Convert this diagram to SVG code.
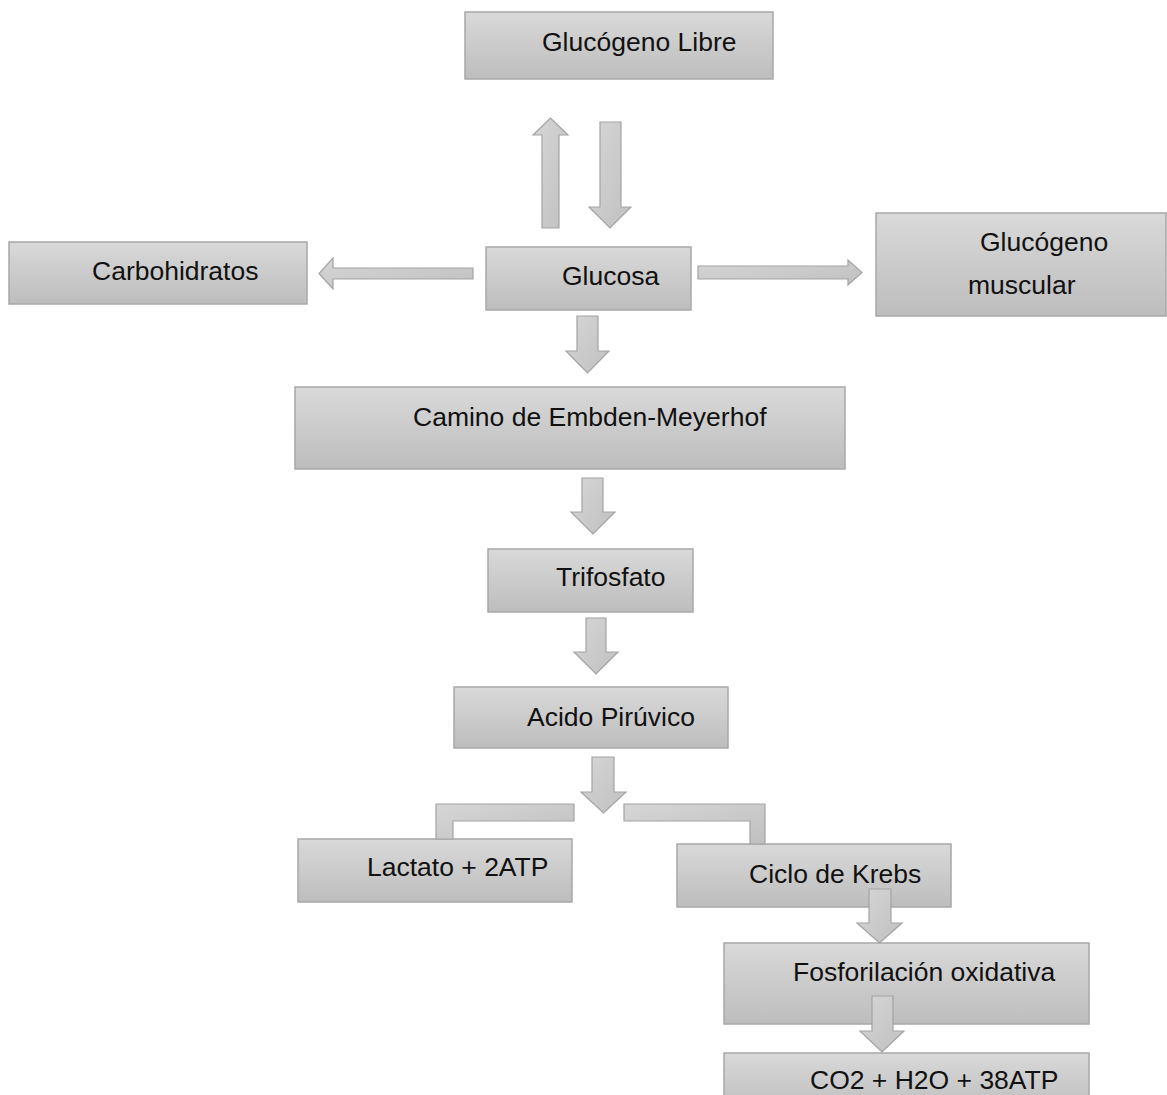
<svg xmlns="http://www.w3.org/2000/svg" width="1167" height="1095" viewBox="0 0 1167 1095">
<defs>
<linearGradient id="g" x1="0" y1="0" x2="0" y2="1">
<stop offset="0" stop-color="#d9d9d9"/>
<stop offset="1" stop-color="#bdbdbd"/>
</linearGradient>
<linearGradient id="ga" x1="0" y1="0" x2="1" y2="1">
<stop offset="0" stop-color="#d6d6d6"/>
<stop offset="1" stop-color="#c0c0c0"/>
</linearGradient>
<style>
.box{fill:url(#g);stroke:#a8a8a8;stroke-width:1.5}
.arr{fill:url(#ga);stroke:#a3a3a3;stroke-width:1.2;stroke-linejoin:miter}
.t{font-family:"Liberation Sans",Arial,sans-serif;font-size:26.5px;fill:#111}
</style>
</defs>
<rect width="1167" height="1095" fill="#fff"/>
<g id="n-glucogeno-libre"><rect class="box" x="465" y="12" width="308" height="67"/><text class="t" x="542" y="51">Glucógeno Libre</text></g>
<g id="n-carbohidratos"><rect class="box" x="9" y="242" width="298" height="62"/><text class="t" x="92" y="280">Carbohidratos</text></g>
<g id="n-glucosa"><rect class="box" x="486" y="247" width="205" height="63"/><text class="t" x="562" y="285">Glucosa</text></g>
<g id="n-glucogeno-muscular"><rect class="box" x="876" y="213" width="290" height="103"/><text class="t" x="980" y="251">Glucógeno</text><text class="t" x="968" y="294">muscular</text></g>
<g id="n-camino"><rect class="box" x="295" y="387" width="550" height="82"/><text class="t" x="413" y="426">Camino de Embden-Meyerhof</text></g>
<g id="n-trifosfato"><rect class="box" x="488" y="549" width="205" height="63"/><text class="t" x="556" y="586">Trifosfato</text></g>
<g id="n-acido"><rect class="box" x="454" y="687" width="274" height="61"/><text class="t" x="527" y="726">Acido Pirúvico</text></g>
<g id="n-lactato"><rect class="box" x="298" y="839" width="274" height="63"/><text class="t" x="367" y="876">Lactato + 2ATP</text></g>
<g id="n-krebs"><rect class="box" x="677" y="844" width="274" height="63"/><text class="t" x="749" y="883">Ciclo de Krebs</text></g>
<g id="n-fosforilacion"><rect class="box" x="724" y="943" width="365" height="81"/><text class="t" x="793" y="981">Fosforilación oxidativa</text></g>
<g id="n-co2"><rect class="box" x="724" y="1053" width="365" height="60"/><text class="t" x="810" y="1089">CO2 + H2O + 38ATP</text></g>
<g id="connectors">
<path class="arr" d="M542,228 L542,135 L533,135 L550.5,118 L568,135 L559,135 L559,228 Z"/>
<path class="arr" d="M600,122 L621,122 L621,207 L631,207 L610,228 L589,207 L600,207 Z"/>
<path class="arr" d="M473,268 L333,268 L333,258 L319,273.5 L333,289 L333,279 L473,279 Z"/>
<path class="arr" d="M698,266 L848,266 L848,260 L862,272.5 L848,285 L848,279 L698,279 Z"/>
<path class="arr" d="M577,316 L598,316 L598,351 L609,351 L587.5,373 L566,351 L577,351 Z"/>
<path class="arr" d="M582,478 L603,478 L603,512 L615,512 L593,534 L571,512 L582,512 Z"/>
<path class="arr" d="M586,618 L606,618 L606,652 L618,652 L596,674 L574,652 L586,652 Z"/>
<path class="arr" d="M592,757 L614,757 L614,792 L626,792 L603.5,813 L581,792 L592,792 Z"/>
<path class="arr" d="M574,804 L436,804 L436,839 L453,839 L453,821 L574,821 Z"/>
<path class="arr" d="M624,804 L765,804 L765,844 L750,844 L750,821 L624,821 Z"/>
<path class="arr" d="M869,889 L891,889 L891,923 L902,923 L879.5,943 L857,923 L869,923 Z"/>
<path class="arr" d="M872,996 L893,996 L893,1031 L904,1031 L882,1052 L860,1031 L872,1031 Z"/>
</g>
</svg>
